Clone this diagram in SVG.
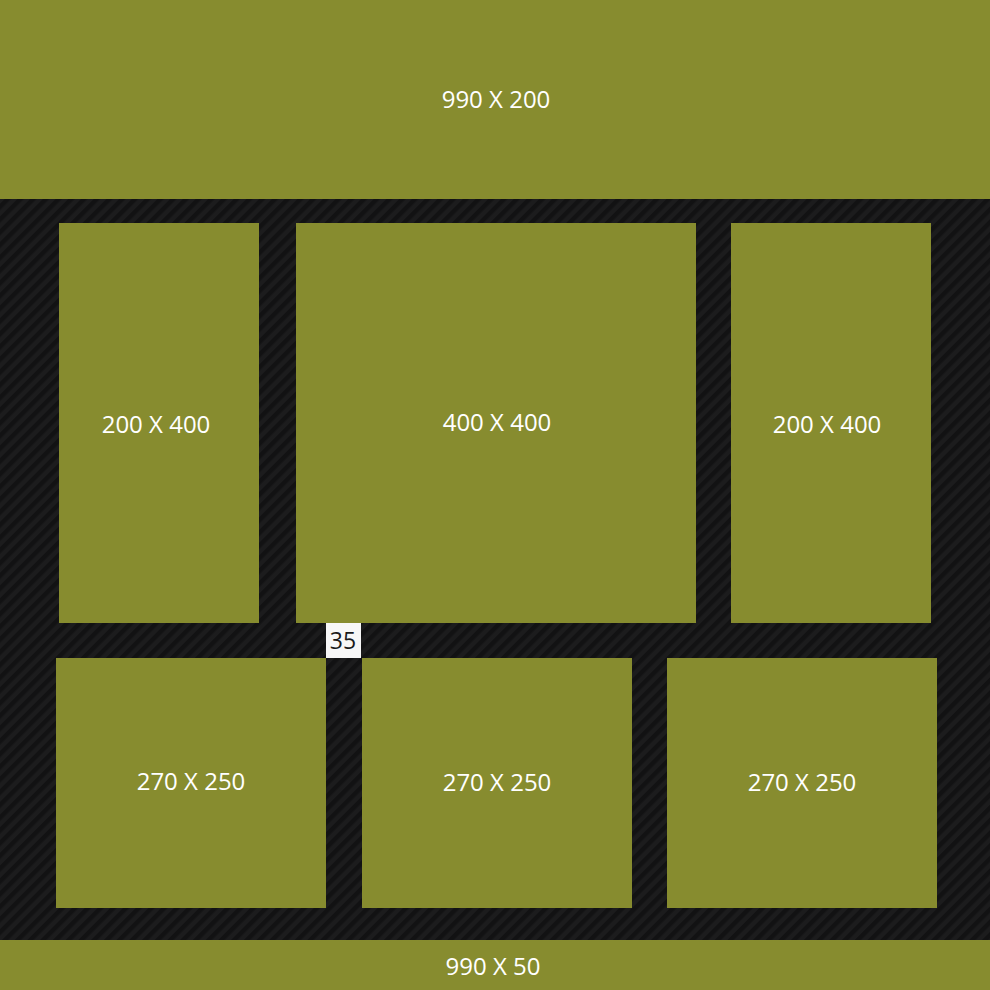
<svg xmlns="http://www.w3.org/2000/svg" width="990" height="990" viewBox="0 0 990 990">
<defs>
<pattern id="stripes" width="9" height="9" patternUnits="userSpaceOnUse" patternTransform="rotate(45)">
<rect width="9" height="9" fill="#1c1c1d"/>
<rect width="4.5" height="9" fill="#121213"/>
</pattern>
<style>
.box{fill:#878c2f}
.lbl{font-family:"Open Sans","Noto Sans",sans-serif;font-size:24px;fill:#ffffff;text-anchor:middle;dominant-baseline:central}
</style>
</defs>
<rect x="0" y="0" width="990" height="990" fill="url(#stripes)"/>
<g id="top"><rect class="box" x="0" y="0" width="990" height="199"/><text class="lbl" x="496" y="98">990 X 200</text></g>
<g id="left"><rect class="box" x="59" y="223" width="200" height="400"/><text class="lbl" x="156" y="423">200 X 400</text></g>
<g id="center"><rect class="box" x="296" y="223" width="400" height="400"/><text class="lbl" x="497" y="421">400 X 400</text></g>
<g id="right"><rect class="box" x="731" y="223" width="200" height="400"/><text class="lbl" x="827" y="423">200 X 400</text></g>
<g id="b1"><rect class="box" x="56" y="658" width="270" height="250"/><text class="lbl" x="191" y="780">270 X 250</text></g>
<g id="b2"><rect class="box" x="362" y="658" width="270" height="250"/><text class="lbl" x="497" y="781">270 X 250</text></g>
<g id="b3"><rect class="box" x="667" y="658" width="270" height="250"/><text class="lbl" x="802" y="781">270 X 250</text></g>
<g id="bottom"><rect class="box" x="0" y="940" width="990" height="50"/><text class="lbl" x="493" y="965">990 X 50</text></g>
<g id="gap"><rect x="326" y="623" width="35" height="35" fill="#f7f7f7"/><text x="343" y="640" font-family="Open Sans, sans-serif" font-size="23px" fill="#1a1a1a" text-anchor="middle" dominant-baseline="central">35</text></g>
<g id="connectors"/>
</svg>
